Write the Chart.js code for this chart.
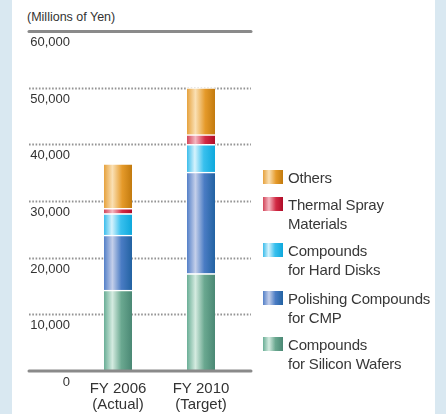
<!DOCTYPE html>
<html>
<head>
<meta charset="utf-8">
<script src="https://cdn.jsdelivr.net/npm/chart.js@4/dist/chart.umd.min.js"></script>
<style>
  html, body { margin: 0; padding: 0; }
  body { width: 446px; height: 414px; background: #d9e8f1; position: relative; overflow: hidden;
         font-family: "Liberation Sans", Arial, sans-serif; }
  #panel { position: absolute; left: 12px; top: 0; width: 423px; height: 414px; background: #ffffff; }
  #chart { position: absolute; left: 0; top: 0; }
  #unit { position: absolute; left: 27px; top: 10px; font-size: 12.5px; color: #333; white-space: nowrap; }
  .item { position: absolute; left: 263px; }
  .sw { position: absolute; left: 0; top: 0; width: 20px; height: 14px; }
  .tx { position: absolute; left: 25px; top: -2.5px; font-size: 15px; line-height: 19px; color: #383838;
        white-space: nowrap; letter-spacing: -0.2px; }
</style>
</head>
<body>
<div id="panel"></div>
<div id="unit">(Millions of Yen)</div>
<canvas id="chart" width="446" height="414"></canvas>
<div id="legend"></div>
<script>
// Sales by product line, millions of yen (stacked bottom to top)
const categories = [['FY 2006', '(Actual)'], ['FY 2010', '(Target)']];
const siliconWafers = [14300, 17200];
const cmpCompounds = [9700, 17900];
const hardDisks = [3800, 4900];
const thermalSpray = [900, 1700];
const others = [7900, 8300];

const seriesNames = [
  ['Compounds', 'for Silicon Wafers'],
  ['Polishing Compounds', 'for CMP'],
  ['Compounds', 'for Hard Disks'],
  ['Thermal Spray', 'Materials'],
  ['Others']
];
const seriesValues = [siliconWafers, cmpCompounds, hardDisks, thermalSpray, others];

// Horizontal shading of each bar colour: [offset, colour]
const shades = [
  [[0, '#6aae96'], [0.3, '#d4ebe0'], [0.62, '#6aa890'], [1, '#4a8874']],
  [[0, '#5480c8'], [0.3, '#c4cfea'], [0.62, '#4a7cc4'], [1, '#2262a2']],
  [[0, '#3cbdeb'], [0.28, '#d6f3fd'], [0.6, '#38c0ee'], [1, '#0ea8dc']],
  [[0, '#d2465a'], [0.3, '#f5b8c2'], [0.65, '#d22a44'], [1, '#b00c28']],
  [[0, '#e6a23e'], [0.3, '#fae0b4'], [0.65, '#e59a2a'], [1, '#c27a0e']]
];
const BAR_W = 28;

function barFill(stops) {
  return function (c) {
    const chart = c.chart;
    const xs = chart.scales && chart.scales.x;
    if (!xs || c.type !== 'data' || !isFinite(xs.left)) return stops[2][1];
    const cx = xs.getPixelForValue(c.dataIndex);
    const g = chart.ctx.createLinearGradient(cx - BAR_W / 2, 0, cx + BAR_W / 2, 0);
    stops.forEach(s => g.addColorStop(s[0], s[1]));
    return g;
  };
}

// Horizontal rules: dotted at intermediate ticks, solid at 0 and the top
const rules = {
  id: 'rules',
  beforeDatasetsDraw(chart) {
    const y = chart.scales.y, ctx = chart.ctx;
    const x0 = y.left, x1 = chart.chartArea.right + 8.5;
    ctx.save();
    y.ticks.forEach(t => {
      if (t.value === y.min) return;
      const py = Math.round(y.getPixelForValue(t.value)) + 0.5;
      ctx.beginPath();
      if (t.value === y.max) {
        ctx.setLineDash([]);
        ctx.lineWidth = 3;
        ctx.strokeStyle = '#8a8a8a';
        ctx.lineCap = 'round';
      } else {
        ctx.setLineDash([1.6, 1.7]);
        ctx.lineWidth = 2;
        ctx.strokeStyle = '#939393';
        ctx.lineCap = 'butt';
      }
      ctx.moveTo(x0, py);
      ctx.lineTo(x1, py);
      ctx.stroke();
    });
    ctx.restore();
  },
  afterDatasetsDraw(chart) {
    const y = chart.scales.y, ctx = chart.ctx;
    const py = y.getPixelForValue(y.min);
    ctx.save();
    ctx.beginPath();
    ctx.lineWidth = 3;
    ctx.lineCap = 'round';
    ctx.strokeStyle = '#8a8a8a';
    ctx.moveTo(y.left, py);
    ctx.lineTo(chart.chartArea.right + 8.5, py);
    ctx.stroke();
    ctx.restore();
  }
};

new Chart(document.getElementById('chart'), {
  type: 'bar',
  data: {
    labels: categories,
    datasets: seriesValues.map((vals, i) => ({
      label: seriesNames[i].join(' '),
      data: vals,
      backgroundColor: barFill(shades[i]),
      borderColor: 'rgba(255,255,255,0.95)',
      borderWidth: { top: 1.5, left: 0, right: 0, bottom: 0 },
      borderSkipped: 'start',
      barThickness: BAR_W
    }))
  },
  options: {
    responsive: false,
    animation: false,
    layout: { padding: { left: 29, top: 31, right: 203.5, bottom: 0 } },
    plugins: { legend: { display: false }, tooltip: { enabled: false } },
    scales: {
      x: {
        stacked: true,
        grid: { display: false, drawTicks: false },
        border: { display: false },
        ticks: {
          padding: 10,
          color: '#333',
          font: { family: '"Liberation Sans", Arial, sans-serif', size: 15, lineHeight: 1.07 }
        },
        afterFit(axis) { axis.height = 43; }
      },
      y: {
        stacked: true,
        min: 0,
        max: 60000,
        grid: { display: false, drawTicks: false },
        border: { display: false },
        ticks: {
          stepSize: 10000,
          padding: 6.5,
          labelOffset: 11.5,
          color: '#333',
          font: { family: '"Liberation Sans", Arial, sans-serif', size: 13 },
          callback: v => v.toLocaleString('en-US')
        },
        afterFit(axis) { axis.width = 47.5; }
      }
    }
  },
  plugins: [rules]
});

// Legend, top entry first
const legendTops = [170, 197, 243, 291, 337];
const legend = document.getElementById('legend');
for (let k = 0; k < seriesNames.length; k++) {
  const i = seriesNames.length - 1 - k;
  const item = document.createElement('div');
  item.className = 'item';
  item.style.top = legendTops[k] + 'px';
  const sw = document.createElement('div');
  sw.className = 'sw';
  sw.style.background = 'linear-gradient(to right, ' +
    shades[i].map(s => s[1] + ' ' + (s[0] * 100) + '%').join(', ') + ')';
  const tx = document.createElement('div');
  tx.className = 'tx';
  tx.innerHTML = seriesNames[i].join('<br>');
  item.appendChild(sw);
  item.appendChild(tx);
  legend.appendChild(item);
}
</script>
</body>
</html>
